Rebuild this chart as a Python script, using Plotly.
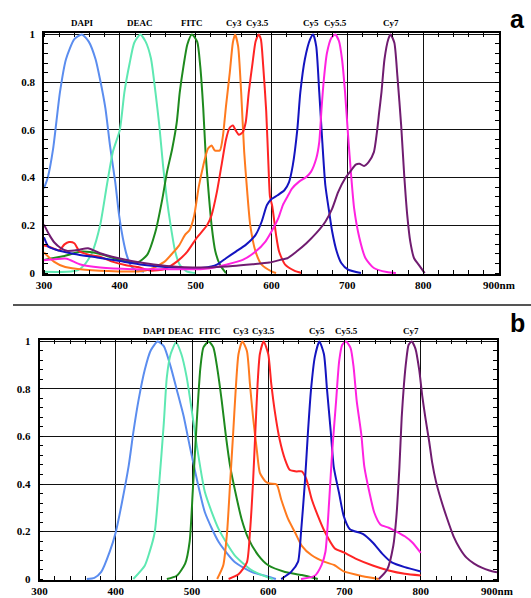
import plotly.graph_objects as go

# ---------------- data: panel a (absorption) ----------------
dyes = ["DAPI", "DEAC", "FITC", "Cy3", "Cy3.5", "Cy5", "Cy5.5", "Cy7"]
colors = ["#5B8DEF", "#5EE8B2", "#1E8A1E", "#FF7A1E", "#FF2424", "#1414C0", "#FF22E0", "#701C70"]

a_DAPI_nm = [300, 305, 312, 321, 329, 340, 350, 359, 368, 374, 381, 387, 394, 399, 404, 409, 415, 422, 432]
a_DAPI_v = [0.355, 0.40, 0.52, 0.757, 0.896, 0.98, 1.0, 0.97, 0.896, 0.81, 0.69, 0.535, 0.38, 0.243, 0.146, 0.076, 0.028, 0.012, 0.005]

a_DEAC_nm = [300, 330, 345, 352, 358, 364, 374, 383, 391, 400, 406, 413, 419, 427, 434, 441, 447, 452, 457, 462, 467, 473, 479, 488, 500]
a_DEAC_v = [0.005, 0.005, 0.012, 0.03, 0.055, 0.09, 0.2, 0.37, 0.51, 0.6, 0.757, 0.88, 0.965, 1.0, 0.97, 0.9, 0.757, 0.62, 0.45, 0.31, 0.2, 0.09, 0.035, 0.007, 0.0]

a_FITC_nm = [300, 325, 350, 374, 400, 415, 424, 436, 447, 456, 462, 469, 475, 479, 484, 489, 495, 502, 506, 510, 513, 517, 521, 526, 532, 540]
a_FITC_v = [0.055, 0.07, 0.09, 0.08, 0.055, 0.045, 0.045, 0.076, 0.174, 0.31, 0.42, 0.52, 0.63, 0.757, 0.868, 0.958, 1.0, 0.97, 0.868, 0.69, 0.507, 0.34, 0.2, 0.09, 0.035, 0.0]

a_Cy3_nm = [300, 313, 328, 354, 398, 424, 441, 459, 470, 478, 486, 492, 498, 504, 510, 516, 521, 525, 532, 536, 540, 545, 549, 552, 556, 560, 564, 568, 572, 579, 587, 600, 606]
a_Cy3_v = [0.086, 0.048, 0.025, 0.014, 0.007, 0.007, 0.017, 0.048, 0.085, 0.115, 0.16, 0.18, 0.24, 0.36, 0.45, 0.52, 0.535, 0.514, 0.514, 0.576, 0.70, 0.84, 0.965, 1.0, 0.95, 0.757, 0.507, 0.34, 0.2, 0.09, 0.035, 0.007, 0.0]

a_Cy35_nm = [300, 307, 320, 327, 333, 340, 347, 360, 373, 390, 407, 424, 441, 459, 476, 489, 502, 515, 521, 528, 534, 540, 545, 549, 553, 557, 562, 566, 570, 575, 579, 583, 586, 589, 593, 596, 598, 601, 606, 610, 618, 630, 640]
a_Cy35_v = [0.115, 0.11, 0.095, 0.12, 0.13, 0.125, 0.09, 0.076, 0.069, 0.048, 0.034, 0.025, 0.01, 0.017, 0.05, 0.09, 0.15, 0.2, 0.243, 0.34, 0.45, 0.56, 0.61, 0.618, 0.597, 0.58, 0.59, 0.632, 0.757, 0.88, 0.97, 1.0, 0.98, 0.87, 0.68, 0.45, 0.32, 0.28, 0.16, 0.09, 0.035, 0.01, 0.0]

a_Cy5_nm = [300, 306, 314, 325, 340, 370, 400, 430, 460, 490, 510, 528, 540, 553, 566, 579, 587, 594, 600, 608, 617, 623, 628, 634, 638, 644, 651, 655, 659, 663, 667, 671, 676, 680, 686, 692, 701, 718]
a_Cy5_v = [0.15, 0.11, 0.1, 0.09, 0.08, 0.065, 0.05, 0.035, 0.025, 0.02, 0.022, 0.035, 0.062, 0.09, 0.118, 0.16, 0.215, 0.285, 0.31, 0.326, 0.347, 0.38, 0.45, 0.6, 0.757, 0.896, 0.98, 1.0, 0.95, 0.757, 0.55, 0.368, 0.257, 0.174, 0.09, 0.042, 0.014, 0.0]

a_Cy55_nm = [300, 315, 330, 347, 374, 417, 462, 506, 519, 540, 562, 579, 592, 600, 609, 615, 621, 627, 636, 646, 652, 659, 663, 666, 669, 673, 679, 684, 689, 693, 697, 701, 705, 709, 716, 724, 735, 752, 764]
a_Cy55_v = [0.054, 0.058, 0.06, 0.037, 0.023, 0.016, 0.016, 0.016, 0.02, 0.035, 0.055, 0.09, 0.132, 0.174, 0.23, 0.285, 0.32, 0.354, 0.382, 0.403, 0.424, 0.48, 0.55, 0.69, 0.81, 0.92, 0.986, 1.0, 0.972, 0.896, 0.757, 0.576, 0.41, 0.27, 0.146, 0.062, 0.021, 0.004, 0.0]

a_Cy7_nm = [300, 307, 314, 322, 330, 345, 358, 374, 400, 427, 462, 506, 549, 575, 597, 615, 621, 633, 646, 659, 671, 680, 688, 697, 705, 711, 716, 722, 728, 735, 739, 742, 745, 749, 754, 757, 762, 766, 771, 775, 779, 783, 788, 794, 802]
a_Cy7_v = [0.203, 0.16, 0.127, 0.105, 0.093, 0.097, 0.104, 0.083, 0.061, 0.044, 0.03, 0.023, 0.03, 0.037, 0.044, 0.058, 0.062, 0.09, 0.125, 0.167, 0.215, 0.27, 0.34, 0.396, 0.43, 0.454, 0.458, 0.449, 0.465, 0.507, 0.59, 0.674, 0.757, 0.896, 0.98, 1.0, 0.965, 0.826, 0.618, 0.41, 0.243, 0.132, 0.062, 0.035, 0.0]

# ---------------- data: panel b (emission) ----------------
b_DAPI_nm = [362, 372, 381, 392, 400, 408, 417, 423, 430, 438, 446, 455, 463, 472, 480, 489, 497, 505, 517, 535, 556, 578, 600, 610]
b_DAPI_v = [0.0, 0.005, 0.03, 0.114, 0.197, 0.32, 0.477, 0.616, 0.755, 0.88, 0.963, 1.0, 0.98, 0.894, 0.797, 0.686, 0.56, 0.44, 0.28, 0.156, 0.072, 0.03, 0.01, 0.0]

b_DEAC_nm = [423, 438, 444, 451, 457, 463, 467, 472, 479, 486, 493, 499, 505, 517, 535, 556, 578, 600, 606]
b_DEAC_v = [0.0, 0.056, 0.11, 0.195, 0.404, 0.655, 0.85, 0.947, 0.995, 0.947, 0.85, 0.725, 0.59, 0.365, 0.21, 0.1, 0.038, 0.006, 0.0]

b_FITC_nm = [467, 480, 491, 497, 501, 506, 511, 515, 522, 528, 533, 539, 544, 550, 557, 565, 574, 587, 600, 622, 644, 665]
b_FITC_v = [0.0, 0.014, 0.065, 0.16, 0.37, 0.65, 0.89, 0.975, 1.0, 0.975, 0.89, 0.75, 0.614, 0.475, 0.364, 0.253, 0.17, 0.1, 0.058, 0.03, 0.017, 0.0]

b_Cy3_nm = [533, 541, 546, 550, 554, 557, 561, 566, 572, 576, 580, 585, 589, 596, 602, 611, 617, 626, 635, 644, 657, 674, 687, 699, 724, 745]
b_Cy3_v = [0.0, 0.058, 0.197, 0.405, 0.614, 0.78, 0.947, 1.0, 0.96, 0.82, 0.683, 0.544, 0.447, 0.412, 0.402, 0.398, 0.335, 0.253, 0.197, 0.14, 0.1, 0.072, 0.058, 0.032, 0.012, 0.0]

b_Cy35_nm = [548, 561, 572, 576, 580, 583, 586, 589, 594, 600, 604, 609, 615, 622, 628, 637, 644, 650, 657, 665, 674, 687, 699, 716, 737, 758, 779, 800]
b_Cy35_v = [0.0, 0.02, 0.07, 0.197, 0.405, 0.614, 0.82, 0.947, 1.0, 0.947, 0.82, 0.697, 0.586, 0.503, 0.46, 0.453, 0.453, 0.42, 0.336, 0.267, 0.2, 0.13, 0.112, 0.084, 0.057, 0.036, 0.022, 0.015]

b_Cy5_nm = [617, 630, 639, 643, 648, 652, 656, 661, 667, 673, 677, 682, 686, 693, 699, 707, 724, 737, 750, 762, 779, 800]
b_Cy5_v = [0.0, 0.03, 0.072, 0.197, 0.405, 0.614, 0.794, 0.933, 1.0, 0.947, 0.8, 0.62, 0.47, 0.36, 0.265, 0.21, 0.19, 0.154, 0.105, 0.07, 0.05, 0.032]

b_Cy55_nm = [643, 661, 670, 675, 680, 684, 689, 693, 697, 702, 708, 712, 716, 722, 726, 733, 739, 747, 758, 768, 779, 789, 800]
b_Cy55_v = [0.0, 0.014, 0.06, 0.115, 0.334, 0.543, 0.75, 0.917, 0.986, 1.0, 0.972, 0.89, 0.75, 0.61, 0.473, 0.36, 0.28, 0.23, 0.216, 0.2, 0.18, 0.154, 0.11]

b_Cy7_nm = [745, 756, 764, 768, 772, 775, 778, 781, 784, 788, 793, 798, 802, 806, 811, 815, 820, 826, 834, 843, 851, 860, 870, 880, 890, 900]
b_Cy7_v = [0.0, 0.04, 0.14, 0.26, 0.47, 0.68, 0.82, 0.92, 0.985, 1.0, 0.97, 0.88, 0.77, 0.68, 0.58, 0.49, 0.41, 0.34, 0.26, 0.18, 0.13, 0.09, 0.065, 0.048, 0.036, 0.028]

a_series = [(a_DAPI_nm, a_DAPI_v), (a_DEAC_nm, a_DEAC_v), (a_FITC_nm, a_FITC_v), (a_Cy3_nm, a_Cy3_v),
            (a_Cy35_nm, a_Cy35_v), (a_Cy5_nm, a_Cy5_v), (a_Cy55_nm, a_Cy55_v), (a_Cy7_nm, a_Cy7_v)]
b_series = [(b_DAPI_nm, b_DAPI_v), (b_DEAC_nm, b_DEAC_v), (b_FITC_nm, b_FITC_v), (b_Cy3_nm, b_Cy3_v),
            (b_Cy35_nm, b_Cy35_v), (b_Cy5_nm, b_Cy5_v), (b_Cy55_nm, b_Cy55_v), (b_Cy7_nm, b_Cy7_v)]

# label positions (nm) above each panel
a_label_nm = [350, 426, 495, 550, 582, 652, 685, 758]
b_label_nm = [450, 485, 524, 564, 594, 664, 703, 787]

x_tickvals = [300, 400, 500, 600, 700, 800, 900]
x_ticktext = ["300", "400", "500", "600", "700", "800", "900nm"]
y_tickvals = [0, 0.2, 0.4, 0.6, 0.8, 1]
y_ticktext = ["0", "0.2", "0.4", "0.6", "0.8", "1"]

W, H = 531, 598
fig = go.Figure()

for (nm, v), c in zip(a_series, colors):
    fig.add_trace(go.Scatter(x=nm, y=v, mode="lines", line=dict(color=c, width=2, shape="spline", smoothing=0.6),
                             xaxis="x", yaxis="y", showlegend=False, hoverinfo="skip"))
for (nm, v), c in zip(b_series, colors):
    fig.add_trace(go.Scatter(x=nm, y=v, mode="lines", line=dict(color=c, width=2, shape="spline", smoothing=0.6),
                             xaxis="x2", yaxis="y2", showlegend=False, hoverinfo="skip"))

tickfont = dict(family="Liberation Serif", size=11, color="black", weight="bold")


def xax(domain, anchor):
    return dict(domain=domain, anchor=anchor, range=[300, 900], tickmode="array", tickvals=x_tickvals,
                ticktext=x_ticktext, showgrid=True, gridcolor="#111", gridwidth=1.3, showline=True,
                linecolor="black", linewidth=1.5, mirror="allticks", ticks="", ticklen=0, tickfont=tickfont,
                ticklabelstandoff=0, zeroline=False, fixedrange=True, automargin=False,
                minor=dict(tick0=300, dtick=20, ticks="inside", ticklen=4, tickcolor="black", tickwidth=1,
                           showgrid=False))


def yax(domain, anchor):
    return dict(domain=domain, anchor=anchor, range=[-0.004, 1.006], tickmode="array", tickvals=y_tickvals,
                ticktext=y_ticktext, showgrid=True, gridcolor="#111", gridwidth=1.3, showline=True,
                linecolor="black", linewidth=1.5, mirror="allticks", ticks="", ticklen=0, tickfont=tickfont,
                ticklabelstandoff=5, zeroline=False, fixedrange=True, automargin=False,
                minor=dict(tick0=0, dtick=0.04, ticks="inside", ticklen=4, tickcolor="black", tickwidth=1,
                           showgrid=False))


fig.update_layout(
    width=W, height=H, margin=dict(l=0, r=0, t=0, b=0, autoexpand=False),
    paper_bgcolor="white", plot_bgcolor="white",
    xaxis=xax([44 / W, 499 / W], "y"),
    yaxis=yax([1 - 274 / H, 1 - 33 / H], "x"),
    xaxis2=xax([39.5 / W, 497 / W], "y2"),
    yaxis2=yax([1 - 580 / H, 1 - 340 / H], "x2"),
    showlegend=False,
)

labfont = dict(family="Liberation Serif", size=9, color="black", weight="bold")
for name, nm in zip(dyes, a_label_nm):
    fig.add_annotation(x=nm, y=1 - 23 / H, xref="x", yref="paper", text=name, showarrow=False,
                       font=labfont, xanchor="center", yanchor="middle")
for name, nm in zip(dyes, b_label_nm):
    fig.add_annotation(x=nm, y=1 - 331 / H, xref="x2", yref="paper", text=name, showarrow=False,
                       font=labfont, xanchor="center", yanchor="middle")

panel_font = dict(family="Liberation Sans", size=25, color="black", weight="bold")
fig.add_annotation(x=517 / W, y=1 - 19 / H, xref="paper", yref="paper", text="a", showarrow=False,
                   font=panel_font, xanchor="center", yanchor="middle")
fig.add_annotation(x=517 / W, y=1 - 323 / H, xref="paper", yref="paper", text="b", showarrow=False,
                   font=panel_font, xanchor="center", yanchor="middle")

fig.add_shape(type="line", xref="paper", yref="paper", x0=13 / W, x1=1, y0=1 - 305 / H, y1=1 - 305 / H,
              line=dict(color="#555", width=2))

fig.write_html("out.html", config={"displayModeBar": False},
               post_script="document.body.style.margin='0px';document.body.style.overflow='hidden';")
